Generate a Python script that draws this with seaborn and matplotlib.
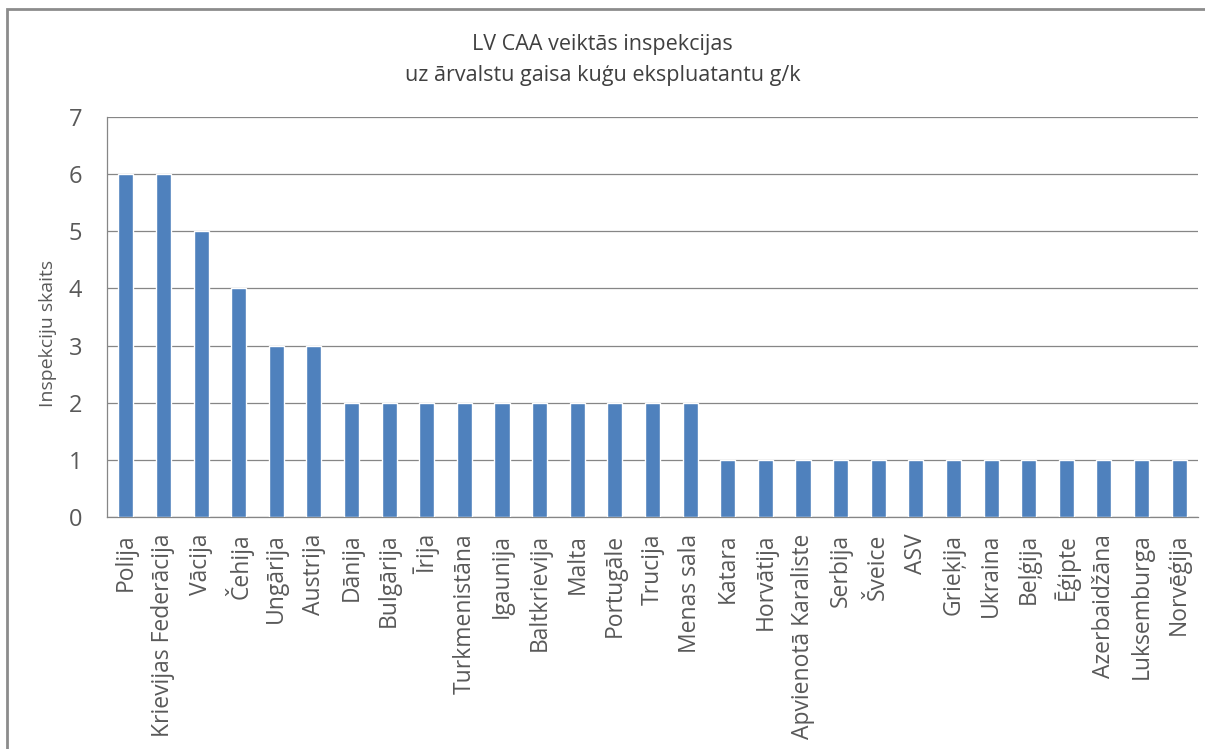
import matplotlib
matplotlib.use("Agg")
import matplotlib.pyplot as plt
from matplotlib.patches import Rectangle
import seaborn as sns
import pandas as pd

# data
COUNTRIES = [
    "Polija", "Krievijas Federācija", "Vācija", "Čehija", "Ungārija", "Austrija",
    "Dānija", "Bulgārija", "Īrija", "Turkmenistāna", "Igaunija", "Baltkrievija",
    "Malta", "Portugāle", "Trucija", "Menas sala", "Katara", "Horvātija",
    "Apvienotā Karaliste", "Serbija", "Šveice", "ASV", "Grieķija", "Ukraina",
    "Beļģija", "Ēģipte", "Azerbaidžāna", "Luksemburga", "Norvēģija",
]
INSPECTIONS = [6, 6, 5, 4, 3, 3,
               2, 2, 2, 2, 2, 2,
               2, 2, 2, 2, 1, 1,
               1, 1, 1, 1, 1, 1,
               1, 1, 1, 1, 1]
Y_TICKS = [0, 1, 2, 3, 4, 5, 6, 7]
TITLE = "LV CAA veiktās inspekcijas\nuz ārvalstu gaisa kuģu ekspluatantu g/k"
Y_LABEL = "Inspekciju skaits"

sns.set_theme(style="white")
plt.rcParams["font.family"] = ["Open Sans", "DejaVu Sans"]

df = pd.DataFrame({"country": COUNTRIES, "count": INSPECTIONS})

fig = plt.figure(figsize=(12.05, 7.49), dpi=100)
ax = fig.add_axes([107 / 1205, 1 - 517 / 749, (1198 - 107) / 1205, 400 / 749])

sns.barplot(data=df, x="country", y="count", color="#4F81BD", saturation=1,
            width=0.4, ax=ax, zorder=3)

ax.set_ylim(0, 7)
ax.set_yticks(Y_TICKS)
ax.set_xlim(-0.5, len(COUNTRIES) - 0.5)
ax.yaxis.grid(True, color="#868686", linewidth=0.9, zorder=0)
ax.set_axisbelow(True)

for side in ["top", "right"]:
    ax.spines[side].set_visible(False)
for side in ["left", "bottom"]:
    ax.spines[side].set_color("#868686")
    ax.spines[side].set_linewidth(0.9)

ax.tick_params(axis="x", rotation=90, labelsize=16.5, labelcolor="#595959",
               length=0, pad=12)
ax.tick_params(axis="y", labelsize=17, labelcolor="#595959", length=0, pad=18)
ax.set_xlabel("")
ax.set_ylabel(Y_LABEL, fontsize=14, color="#595959")
ax.yaxis.set_label_coords(-0.046, 0.46)

fig.text(0.5, 1 - 60 / 749, TITLE, ha="center", va="center", fontsize=15.5,
         color="#404040", linespacing=1.6)

# chart frame
fig.patches.append(Rectangle((7 / 1205, -0.1), 1.2, 1 - 9 / 749 + 0.1,
                             transform=fig.transFigure, fill=False,
                             edgecolor="#8c8c8c", linewidth=2))

fig.savefig("out.png", dpi=100)
